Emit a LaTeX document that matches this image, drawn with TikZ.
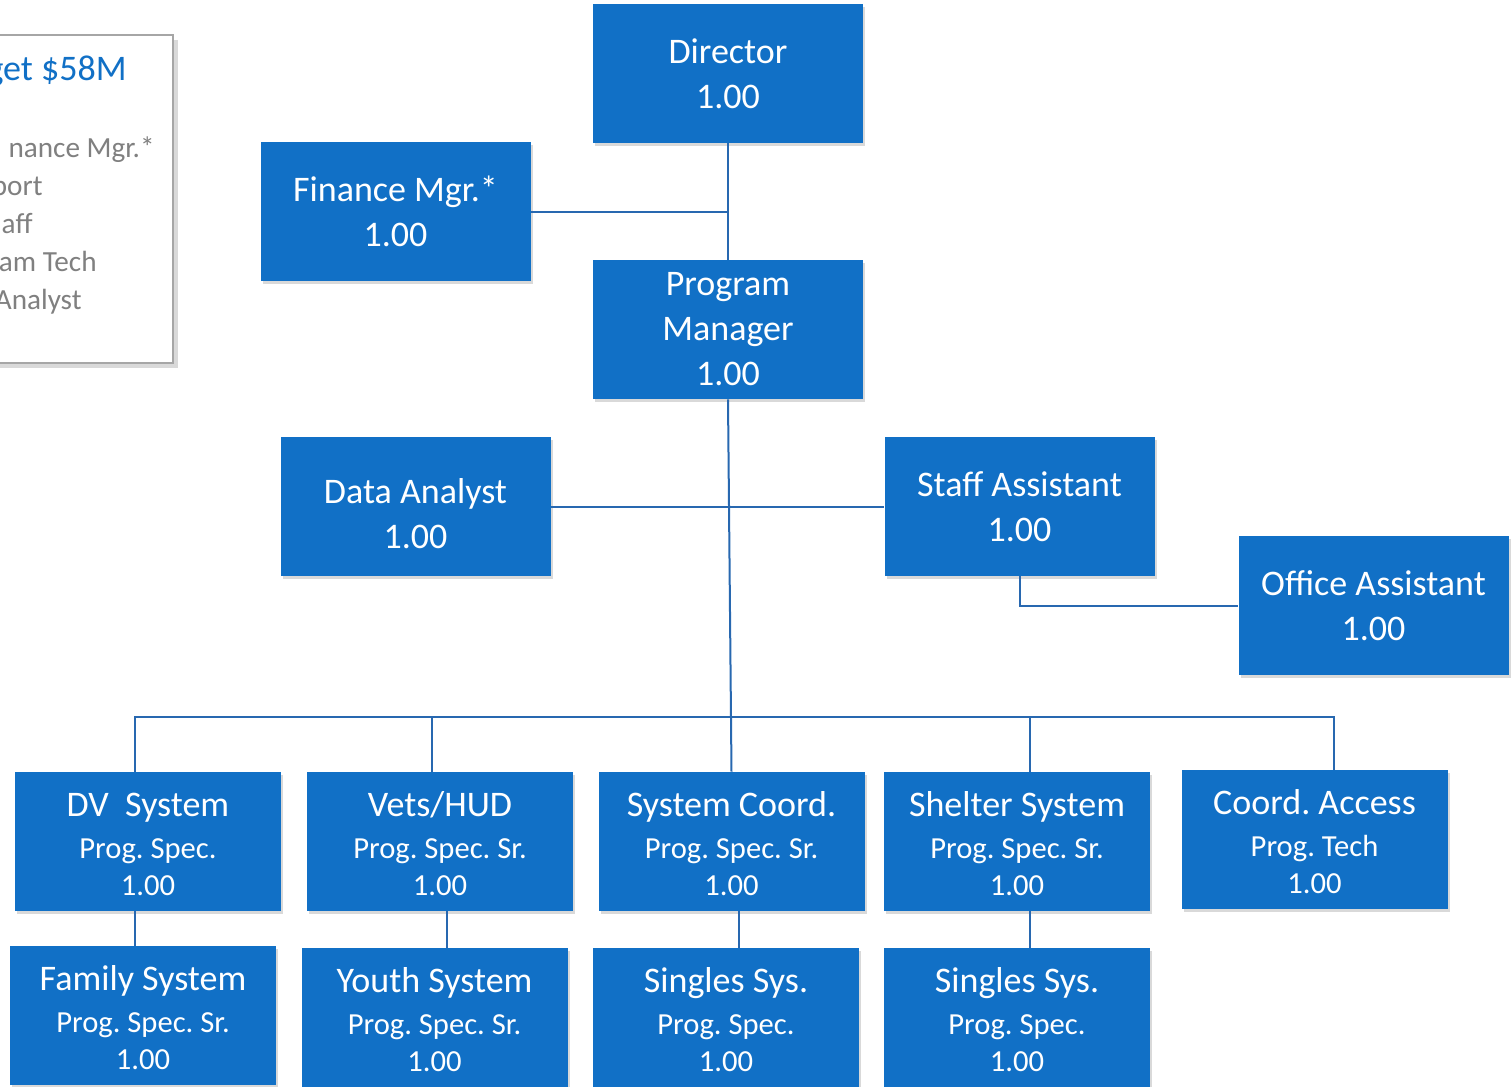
\documentclass[tikz,border=0pt]{standalone}
\usepackage{fontspec}
\setmainfont{Carlito}
\frenchspacing
\usetikzlibrary{shadows}

\definecolor{boxblue}{RGB}{17,112,198}
\definecolor{lineblue}{RGB}{40,104,176}
\definecolor{notegray}{RGB}{128,128,128}

\newcommand{\titlesize}{\fontsize{18}{22.5}\selectfont}
\newcommand{\subsize}{\fontsize{15.3}{18.5}\selectfont}

\tikzset{
	unit/.style={rectangle,fill=boxblue,text=white,align=center,inner sep=0pt,
		minimum width=135pt,minimum height=69.5pt,font=\titlesize,
		drop shadow={shadow xshift=1pt,shadow yshift=-1.5pt,opacity=0.3,fill=black!50}},
	post/.style={unit,minimum width=133pt},
	link/.style={draw=lineblue,line width=1pt}
}

\begin{document}
\begin{tikzpicture}[x=0.5pt,y=-0.5pt]
	\useasboundingbox (0,0) rectangle (1512,1087);
	\clip (0,0) rectangle (1512,1087);

	% budget note, cut at the left edge
	\draw[draw=black!35,line width=1pt,fill=white,
		drop shadow={shadow xshift=2.5pt,shadow yshift=-2.5pt,opacity=0.25,fill=black!60}]
		(-200,35) rectangle (173,363);
	\node[anchor=base east,inner sep=0pt,text=boxblue,font=\titlesize] (budget) at (127,80) {get \$58M};
	\begin{scope}[every node/.style={anchor=base east,inner sep=0pt,text=notegray,font=\fontsize{14.6}{19}\selectfont}]
		\node (n1) at (155,157) {nance Mgr.*};
		\node (n2) at (43,195) {port};
		\node (n3) at (33,233) {aff};
		\node (n4) at (97,271) {am Tech};
		\node (n5) at (82,309) {Analyst};
	\end{scope}

	% management
	\begin{scope}[every node/.style={unit}]
		\node (dir) at (728,73.5) {Director\\1.00};
		\node (fin) at (395.5,211.5) {Finance Mgr.*\\1.00};
		\node (pm) at (728,329.5) {Program\\Manager\\1.00};
		\node (da) at (415.5,506.5) {\rule{0pt}{20pt}Data Analyst\\1.00};
		\node (sa) at (1019.5,506.5) {Staff Assistant\\1.00};
		\node (oa) at (1373.5,605.5) {Office Assistant\\1.00};
	\end{scope}

	% program staff
	\begin{scope}[every node/.style={post}]
		\node (dv) at (148,841.5) {\rule{0pt}{15pt}DV\ \ System\\[-1.5pt]\subsize Prog. Spec.\\[-4pt]\subsize 1.00};
		\node (vh) at (440,841.5) {\rule{0pt}{15pt}Vets/HUD\\[-1.5pt]\subsize Prog. Spec. Sr.\\[-4pt]\subsize 1.00};
		\node (sc) at (731.5,841.5) {\rule{0pt}{15pt}System Coord.\\[-1.5pt]\subsize Prog. Spec. Sr.\\[-4pt]\subsize 1.00};
		\node (sh) at (1017,841.5) {\rule{0pt}{15pt}Shelter System\\[-1.5pt]\subsize Prog. Spec. Sr.\\[-4pt]\subsize 1.00};
		\node (ca) at (1314.5,839.5) {\rule{0pt}{15pt}Coord. Access\\[-1.5pt]\subsize Prog. Tech\\[-4pt]\subsize 1.00};
		\node (fs) at (143,1015.5) {\rule{0pt}{15pt}Family System\\[-1.5pt]\subsize Prog. Spec. Sr.\\[-4pt]\subsize 1.00};
		\node (ys) at (434.5,1017.5) {\rule{0pt}{15pt}Youth System\\[-1.5pt]\subsize Prog. Spec. Sr.\\[-4pt]\subsize 1.00};
		\node (ss1) at (726,1017.5) {\rule{0pt}{15pt}Singles Sys.\\[-1.5pt]\subsize Prog. Spec.\\[-4pt]\subsize 1.00};
		\node (ss2) at (1017,1017.5) {\rule{0pt}{15pt}Singles Sys.\\[-1.5pt]\subsize Prog. Spec.\\[-4pt]\subsize 1.00};
	\end{scope}

	\coordinate (bus) at (731,717);

	\begin{scope}[every path/.style={link}]
		\path (dir.south) edge (pm.north);
		\path (fin.east) edge (fin.east -| dir.south);
		\path (pm.south) edge (sc.north);
		\path (da.east) edge (sa.west);
		\draw (sa.south) |- (oa.west);
		\draw ([xshift=-6.5pt]dv.north) |- (bus) -| ([xshift=9.75pt]ca.north);
		\path ([xshift=-4pt]vh.north) edge ([xshift=-4pt]vh.north |- bus);
		\path ([xshift=6.5pt]sh.north) edge ([xshift=6.5pt]sh.north |- bus);
		\path ([xshift=-6.5pt]dv.south) edge ([xshift=-6.5pt]dv.south |- fs.north);
		\path ([xshift=3.5pt]vh.south) edge ([xshift=3.5pt]vh.south |- ys.north);
		\path ([xshift=3.75pt]sc.south) edge ([xshift=3.75pt]sc.south |- ss1.north);
		\path ([xshift=6.5pt]sh.south) edge ([xshift=6.5pt]sh.south |- ss2.north);
	\end{scope}
\end{tikzpicture}
\end{document}
